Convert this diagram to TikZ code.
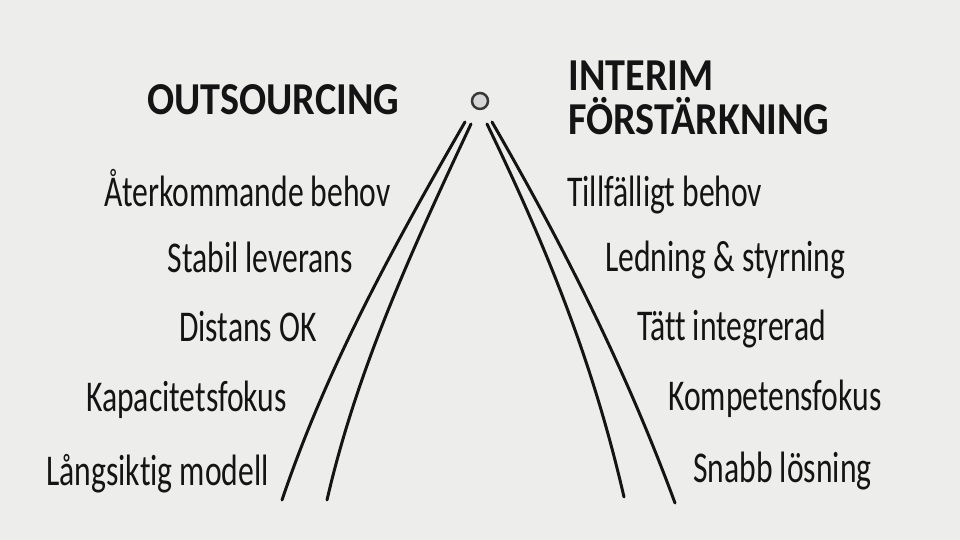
\documentclass[tikz,border=0pt]{standalone}
\usepackage{fontspec}
\setmainfont{Carlito}[Ligatures={NoCommon,NoContextual}]
\usetikzlibrary{positioning}

\definecolor{board}{RGB}{237,237,236}
\definecolor{ink}{RGB}{20,20,20}
\definecolor{knob}{RGB}{214,214,214}

\tikzset{
    lefttxt/.style={anchor=base east, inner sep=0pt, text=ink, font=\fontsize{25}{28}\selectfont, xscale=0.72, transform shape},
    righttxt/.style={anchor=base west, inner sep=0pt, text=ink, font=\fontsize{25}{28}\selectfont, xscale=0.72, transform shape},
    headtxt/.style={anchor=base west, inner sep=0pt, text=ink, font=\fontsize{26}{30}\selectfont\bfseries, xscale=0.88, transform shape},
    rail/.style={draw=ink, line width=1.7pt, line cap=round}
}

\begin{document}
\begin{tikzpicture}[x=0.02cm, y=-0.02cm]
        \fill[board] (0,0) rectangle (960,540);
        \useasboundingbox (0,0) rectangle (960,540);

        % headings
        \node[headtxt](out) at (147,115) {OUTSOURCING};
        \node[headtxt](int) at (568,91)  {INTERIM};
        \node[headtxt](fst) at (568,135) {FÖRSTÄRKNING};

        % the top of the split
        \node[circle, draw=ink!85, fill=knob, line width=1.4pt, inner sep=0pt, minimum size=0.32cm](top) at (480,101) {};

        % rails
        \coordinate (lo1) at (465,122); \coordinate (lo2) at (282,500);
        \coordinate (li1) at (471,124); \coordinate (li2) at (327,500);
        \coordinate (ri1) at (487,124); \coordinate (ri2) at (624,497);
        \coordinate (ro1) at (492,122); \coordinate (ro2) at (675,503);
        \draw[rail] (lo1) .. controls (390,252) and (326,370) .. (lo2);
        \draw[rail] (li1) .. controls (410,254) and (357,370) .. (li2);
        \draw[rail] (ri1) .. controls (550,254) and (594,367) .. (ri2);
        \draw[rail] (ro1) .. controls (567,252) and (627,373) .. (ro2);

        % outsourcing side
        \node[lefttxt](o1) at (391,207) {Återkommande behov};
        \node[lefttxt](o2) at (353,273) {Stabil leverans};
        \node[lefttxt](o3) at (317,342) {Distans OK};
        \node[lefttxt](o4) at (287,412) {Kapacitetsfokus};
        \node[lefttxt](o5) at (269,485) {Långsiktig modell};

        % interim side
        \node[righttxt](i1) at (567,207) {Tillfälligt behov};
        \node[righttxt](i2) at (605,272) {Ledning \& styrning};
        \node[righttxt](i3) at (637,341) {Tätt integrerad};
        \node[righttxt](i4) at (668,411) {Kompetensfokus};
        \node[righttxt](i5) at (693,482) {Snabb lösning};
    \end{tikzpicture}
\end{document}
